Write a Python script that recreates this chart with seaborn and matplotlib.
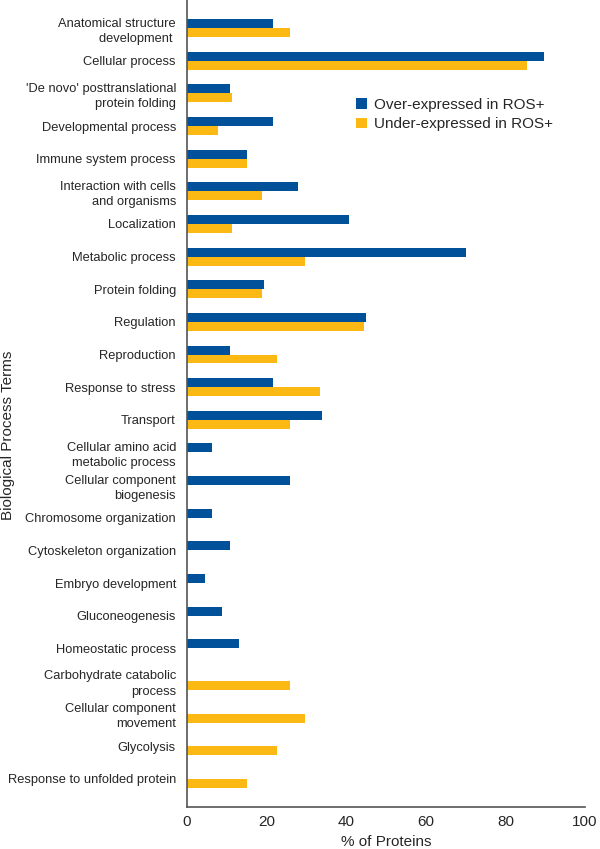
import numpy as np
import pandas as pd
import matplotlib
matplotlib.use("Agg")
import matplotlib.pyplot as plt
import seaborn as sns

# Biological process terms (top to bottom)
terms = [
    "Anatomical structure\ndevelopment ",
    "Cellular process",
    "'De novo' posttranslational\nprotein folding",
    "Developmental process",
    "Immune system process",
    "Interaction with cells\nand organisms",
    "Localization",
    "Metabolic process",
    "Protein folding",
    "Regulation",
    "Reproduction",
    "Response to stress",
    "Transport",
    "Cellular amino acid\nmetabolic process",
    "Cellular component\nbiogenesis",
    "Chromosome organization",
    "Cytoskeleton organization",
    "Embryo development",
    "Gluconeogenesis",
    "Homeostatic process",
    "Carbohydrate catabolic\nprocess",
    "Cellular component\nmovement",
    "Glycolysis",
    "Response to unfolded protein",
]

over_expr = [21.6, 89.6, 10.7, 21.6, 15.0, 27.8, 40.7, 70.2, 19.3, 44.9, 10.7, 21.6,
             34.0, 6.4, 25.9, 6.4, 10.7, 4.5, 8.7, 13.0, 0, 0, 0, 0]
under_expr = [25.9, 85.4, 11.2, 7.8, 15.0, 18.8, 11.2, 29.7, 18.8, 44.4, 22.6, 33.4,
              25.9, 0, 0, 0, 0, 0, 0, 0, 25.9, 29.7, 22.6, 15.0]

series_names = ["Over-expressed in ROS+", "Under-expressed in ROS+"]
colors = ["#00509A", "#FDB913"]

df = pd.DataFrame({
    "term": terms * 2,
    "pct": over_expr + under_expr,
    "group": [series_names[0]] * len(terms) + [series_names[1]] * len(terms),
})

sns.set_style("white")
plt.rcParams["font.family"] = ["Liberation Sans", "DejaVu Sans"]

fig = plt.figure(figsize=(6, 8.49), dpi=100)
ax = fig.add_axes([0.3117, 0.0495, 0.6633, 0.9505])

sns.barplot(data=df, x="pct", y="term", hue="group", order=terms,
            hue_order=series_names, palette=colors, width=0.55,
            linewidth=0, saturation=1, ax=ax)

ax.set_xlim(0, 100)
ax.set_ylim(len(terms) - 1 + 0.86, -0.86)
ax.set_xticks(np.arange(0, 101, 20))
ax.tick_params(axis="x", direction="in", length=7, width=1, color="#555555",
               labelsize=11, pad=6)
ax.tick_params(axis="y", length=0, labelsize=9.3, pad=8)
for lbl in ax.get_yticklabels():
    lbl.set_linespacing(1.35)

for side in ["top", "right"]:
    ax.spines[side].set_visible(False)
for side in ["left", "bottom"]:
    ax.spines[side].set_color("#555555")
    ax.spines[side].set_linewidth(1.2)

ax.set_xlabel("% of Proteins", fontsize=11, labelpad=4)
ax.set_ylabel("Biological Process Terms", fontsize=11)
ax.yaxis.set_label_coords(-0.432, 0.461)

ax.legend(loc="upper left", bbox_to_anchor=(0.39, 0.896), frameon=False,
          fontsize=11, handlelength=0.7, handleheight=0.7, handletextpad=0.5,
          labelspacing=0.38)

fig.savefig("out.png", dpi=100)
